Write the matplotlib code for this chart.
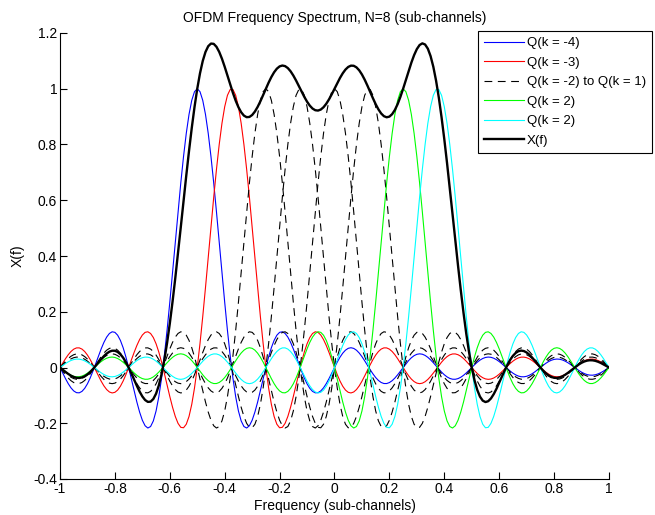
import numpy as np
import matplotlib
matplotlib.use('Agg')
import matplotlib.pyplot as plt

plt.rcParams['font.family'] = ['Liberation Sans', 'DejaVu Sans']
plt.rcParams['font.size'] = 10

# sub-channel set-up
N = 8
centers = [-0.5, -0.375, -0.25, -0.125, 0.0, 0.125, 0.25, 0.375]
labels = ['Q(k = -4)', 'Q(k = -3)', 'Q(k = -2) to Q(k = 1)', None, None, None,
          'Q(k = 2)', 'Q(k = 2)']
colors = ['#0000ff', '#ff0000', 'k', 'k', 'k', 'k', '#00ff00', '#00ffff']
styles = ['-', '-', '--', '--', '--', '--', '-', '-']

f = np.linspace(-1, 1, 201)

fig = plt.figure(figsize=(6.55, 5.15), dpi=100)
ax = fig.add_axes([60/655, 1-479/515, 549/655, 446/515])

total = np.zeros_like(f)
for c, lab, col, ls in zip(centers, labels, colors, styles):
    q = np.sinc(N*(f - c))
    total += q
    ln, = ax.plot(f, q, color=col, ls=ls, lw=0.8)
    if ls == '--':
        ln.set_dashes((7, 5))
    if lab is not None:
        ln.set_label(lab)

ax.plot(f, total, color='k', lw=1.7, label='X(f)')

ax.set_xlim(-1, 1)
ax.set_ylim(-0.4, 1.2)
ax.set_xticks(np.arange(-1, 1.01, 0.2))
ax.set_xticklabels(['-1', '-0.8', '-0.6', '-0.4', '-0.2', '0', '0.2', '0.4', '0.6', '0.8', '1'])
ax.set_yticks(np.arange(-0.4, 1.21, 0.2))
ax.set_yticklabels(['-0.4', '-0.2', '0', '0.2', '0.4', '0.6', '0.8', '1', '1.2'])
ax.tick_params(direction='in', length=5, width=0.8, pad=2)
ax.spines['top'].set_visible(False)
ax.spines['right'].set_visible(False)

ax.set_title('OFDM Frequency Spectrum, N=8 (sub-channels)', fontsize=10, pad=8)
ax.set_xlabel('Frequency (sub-channels)', labelpad=2)
ax.set_ylabel('X(f)', labelpad=6)

leg = ax.legend(loc='upper right', bbox_to_anchor=(652/655, 1-31/515),
                bbox_transform=fig.transFigure, borderaxespad=0,
                fancybox=False, framealpha=1, edgecolor='k', fontsize=9.5,
                handlelength=3.0, handletextpad=0.25, labelspacing=0.55,
                borderpad=0.45)
leg.get_frame().set_linewidth(0.8)

fig.savefig('out.png', dpi=100)
